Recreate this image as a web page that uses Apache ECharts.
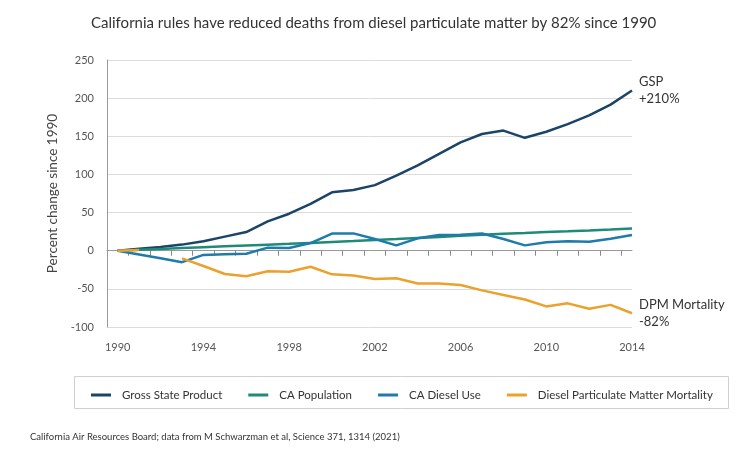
<!DOCTYPE html>
<html>
<head>
<meta charset="utf-8">
<script src="https://cdn.jsdelivr.net/npm/echarts@6/dist/echarts.min.js"></script>
<style>
html,body{margin:0;padding:0;background:#fff;}
#chart{width:750px;height:450px;}
</style>
</head>
<body>
<div id="chart"></div>
<script>
const years = [1990,1991,1992,1993,1994,1995,1996,1997,1998,1999,2000,2001,2002,2003,2004,2005,2006,2007,2008,2009,2010,2011,2012,2013,2014];
const gsp =        [0,2.5,5,8,12.5,18.5,24.5,38.5,48.5,61.5,76.5,79.5,86,98.5,112,127,142,153,157.5,148,156,166,177.5,191.5,210];
const population = [0,1.2,2.4,3.5,4.6,5.7,6.8,7.9,9,10.2,11.4,12.6,14,15.3,16.7,18,19.5,21,22.3,23.3,24.4,25.4,26.5,27.7,29];
const dieselUse =  [0,-5,-10,-15,-5.5,-4.5,-4,4,3.5,10,22.5,22.7,15.3,7,16.2,20.5,20.8,22.5,15.3,7,11,12.3,11.8,15.7,20.5];
const dpm =        [0,1,'-',-10,-20,-30.5,-33.5,-27,-27.5,-21,-31,-32.5,-37,-36,-43,-43,-45,-52,-58,-64,-73,-69,-76,-71,-82];
const seriesNames = ['Gross State Product','CA Population','CA Diesel Use','Diesel Particulate Matter Mortality'];
const colors = ['#1c4467','#1f8a77','#1f7bab','#eba12c'];
const yearLabels = [1990,1994,1998,2002,2006,2010,2014];
const halfTicks = years.slice(0,-1).map(y => y + 0.5);

const pair = arr => years.map((y,i) => [y, arr[i]]);
const FONT = 'Lato';

const chart = echarts.init(document.getElementById('chart'), null, {renderer:'canvas'});
const lineSeries = (name, arr, color, endText) => ({
  name, type:'line', data: pair(arr), showSymbol:false, symbol:'none',
  lineStyle:{color, width:2.5}, itemStyle:{color},
  connectNulls:false, animation:false,
  endLabel: endText ? {show:true, formatter:endText, color:'#333', fontSize:13, fontFamily:FONT, lineHeight:17, distance:7} : {show:false}
});

chart.setOption({
  animation:false,
  title:{text:'California rules have reduced deaths from diesel particulate matter by 82% since 1990',
    left:86, top:11, textStyle:{fontSize:15, fontWeight:'normal', color:'#333', fontFamily:FONT}},
  grid:{left:107, right:118, top:60, bottom:123, containLabel:false},
  xAxis:[
    {type:'value', min:1989.5, max:2014, axisLine:{onZero:true, lineStyle:{color:'#999', width:1}},
     axisTick:{show:true, customValues:halfTicks, length:5, lineStyle:{color:'#888'}},
     axisLabel:{show:false}, splitLine:{show:false}},
    {type:'value', min:1989.5, max:2014, position:'bottom', axisLine:{show:false, onZero:false},
     axisTick:{show:false},
     axisLabel:{customValues:yearLabels, formatter:v=>String(v), color:'#555', fontSize:11, fontFamily:FONT, margin:15},
     splitLine:{show:false}}
  ],
  yAxis:{type:'value', min:-100, max:250, interval:50,
    axisLine:{show:true, lineStyle:{color:'#999'}}, axisTick:{show:false},
    axisLabel:{color:'#555', fontSize:11, fontFamily:FONT, margin:13},
    splitLine:{show:true, lineStyle:{color:'#dcdcdc', width:1}},
    name:'Percent change since 1990', nameLocation:'middle', nameGap:46,
    nameTextStyle:{color:'#444', fontSize:13.5, fontFamily:FONT}},
  legend:{data:seriesNames, left:86, top:384, itemWidth:20, itemHeight:3, itemGap:26,
    icon:'rect', textStyle:{color:'#333', fontSize:11.5, fontFamily:FONT, padding:[0,0,0,6]}},
  graphic:[
    {type:'rect', shape:{x:74.5, y:376.5, width:654, height:32}, style:{fill:'none', stroke:'#d0d0d0', lineWidth:1}, silent:true},
    {type:'text', left:30, top:432, style:{text:'California Air Resources Board; data from M Schwarzman et al, Science 371, 1314 (2021)', fill:'#333', fontSize:9.5, fontFamily:FONT}}
  ],
  series:[
    lineSeries(seriesNames[0], gsp, colors[0], 'GSP\n+210%'),
    lineSeries(seriesNames[1], population, colors[1], null),
    lineSeries(seriesNames[2], dieselUse, colors[2], null),
    lineSeries(seriesNames[3], dpm, colors[3], 'DPM Mortality\n-82%')
  ]
});
</script>
</body>
</html>
